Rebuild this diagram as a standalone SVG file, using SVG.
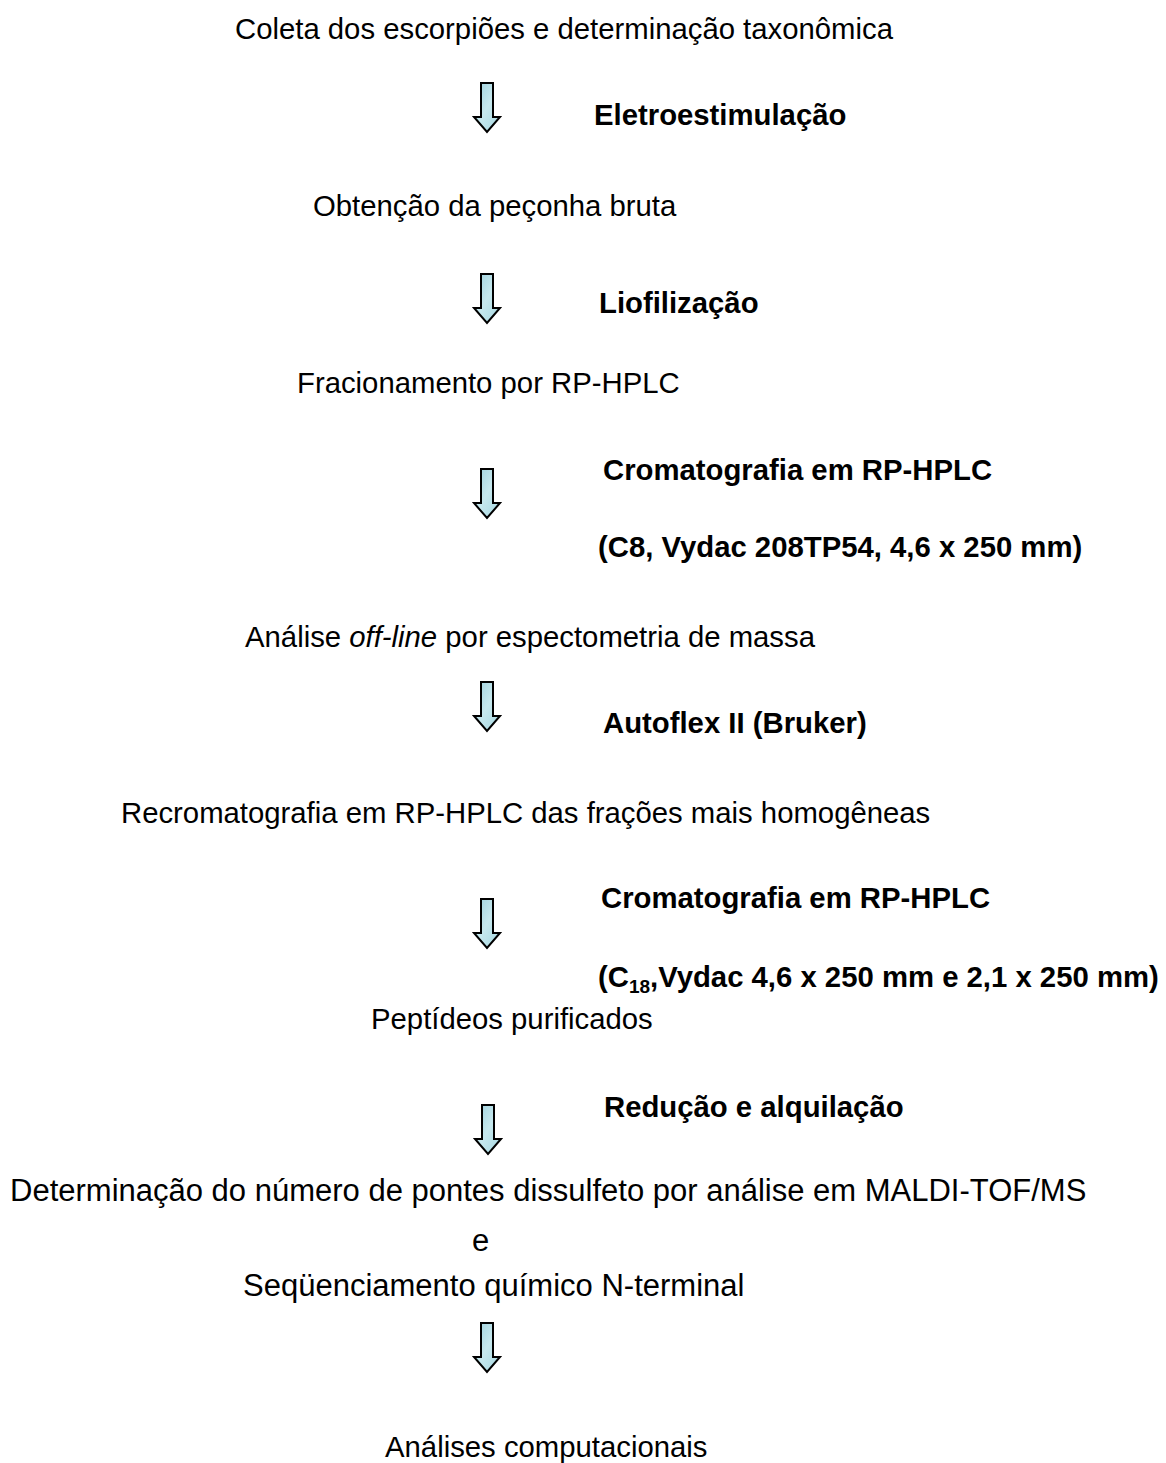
<svg xmlns="http://www.w3.org/2000/svg" width="1166" height="1463" viewBox="0 0 1166 1463">
<style>
.t{font-family:"Liberation Sans",Arial,sans-serif;font-size:29.3px;fill:#000}
.b{font-weight:bold}
.lg{font-size:31px}
.arr{fill:url(#g);stroke:#000;stroke-width:2;stroke-linejoin:miter}
</style>
<defs>
<linearGradient id="g" x1="0" y1="0" x2="1" y2="1">
<stop offset="0" stop-color="#9ccfdb"/>
<stop offset="0.5" stop-color="#c6e8ee"/>
<stop offset="1" stop-color="#a4d6e0"/>
</linearGradient>
<path id="a" d="M-6,0 H6 V34 H13 L0,49 L-13,34 H-6 Z"/>
</defs>
<rect width="1166" height="1463" fill="#fff"/>
<g id="connectors">
<use href="#a" class="arr" x="487" y="83"/>
<use href="#a" class="arr" x="487" y="274"/>
<use href="#a" class="arr" x="487" y="469"/>
<use href="#a" class="arr" x="487" y="682"/>
<use href="#a" class="arr" x="487" y="899"/>
<use href="#a" class="arr" x="488" y="1105"/>
<use href="#a" class="arr" x="487" y="1323"/>
</g>
<g id="n1"><text class="t" x="235" y="39">Coleta dos escorpiões e determinação taxonômica</text></g>
<g id="l1"><text class="t b" x="594" y="125">Eletroestimulação</text></g>
<g id="n2"><text class="t" x="313" y="216">Obtenção da peçonha bruta</text></g>
<g id="l2"><text class="t b" x="599" y="313">Liofilização</text></g>
<g id="n3"><text class="t" x="297" y="393">Fracionamento por RP-HPLC</text></g>
<g id="l3"><text class="t b" x="603" y="480">Cromatografia em RP-HPLC</text>
<text class="t b" x="598" y="557">(C8, Vydac 208TP54, 4,6 x 250 mm)</text></g>
<g id="n4"><text class="t" x="245" y="647">Análise <tspan font-style="italic">off-line</tspan> por espectometria de massa</text></g>
<g id="l4"><text class="t b" x="603" y="733">Autoflex II (Bruker)</text></g>
<g id="n5"><text class="t" x="121" y="823">Recromatografia em RP-HPLC das frações mais homogêneas</text></g>
<g id="l5"><text class="t b" x="601" y="908">Cromatografia em RP-HPLC</text>
<text class="t b" x="598" y="987">(C<tspan font-size="19" dy="6">18</tspan><tspan dy="-6">,Vydac 4,6 x 250 mm e 2,1 x 250 mm)</tspan></text></g>
<g id="n6"><text class="t" x="371" y="1029">Peptídeos purificados</text></g>
<g id="l6"><text class="t b" x="604" y="1117">Redução e alquilação</text></g>
<g id="n7"><text class="t lg" x="10" y="1201">Determinação do número de pontes dissulfeto por análise em MALDI-TOF/MS</text>
<text class="t lg" x="472" y="1251">e</text>
<text class="t lg" x="243" y="1296">Seqüenciamento químico N-terminal</text></g>
<g id="n8"><text class="t" x="385" y="1457">Análises computacionais</text></g>
</svg>
